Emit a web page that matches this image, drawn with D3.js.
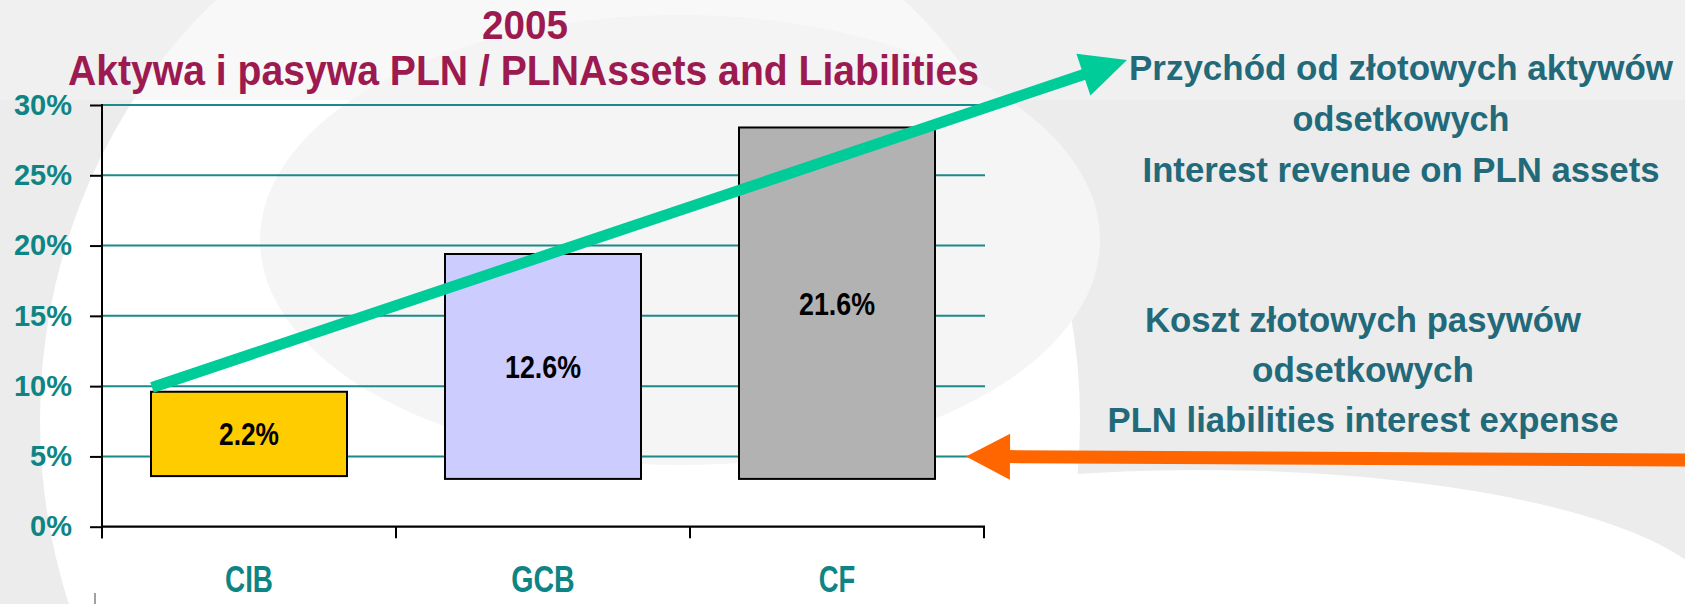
<!DOCTYPE html>
<html>
<head>
<meta charset="utf-8">
<script src="https://cdn.jsdelivr.net/npm/d3@7"></script>
<style>
  html, body { margin: 0; padding: 0; background: #eeeeee; }
  svg { display: block; }
  text { font-family: "Liberation Sans", Arial, "DejaVu Sans", sans-serif; font-weight: bold; }
</style>
</head>
<body>
<svg id="chart" width="1685" height="604"></svg>
<script>
// ---------------- data ----------------
const categories = ["CIB", "GCB", "CF"];
const rangeLow   = [3.6, 3.4, 3.4];     // bottom of floating bar (%)
const rangeHigh  = [9.6, 19.4, 28.4];   // top of floating bar (%)
const barLabels  = ["2.2%", "12.6%", "21.6%"];
const yTickValues = [0, 5, 10, 15, 20, 25, 30];
const titleLines = ["2005", "Aktywa i pasywa PLN / PLNAssets and Liabilities"];
const revenueNote = ["Przychód od złotowych aktywów", "odsetkowych", "Interest revenue on PLN assets"];
const expenseNote = ["Koszt złotowych pasywów", "odsetkowych", "PLN liabilities interest expense"];
const revenueArrowStartValue = 9.9;   // arrow leaves CIB bar top-left
const expenseArrowValue = 5;          // arrow points at 5% line

// ---------------- styles / layout ----------------
const barColors = ["#FFCC00", "#CCCCFF", "#B2B2B2"];
const teal = "#0E8484";
const noteColor = "#22697A";
const titleColor = "#9C1A50";
const W = 1685, H = 604;
const plot = { left: 102, right: 984, top: 105, bottom: 526.7 };

const svg = d3.select("#chart");

// ---------------- background ----------------
const bg = svg.append("g");
bg.append("rect").attr("width", W).attr("height", H).attr("fill", "#ececec");
bg.append("ellipse").attr("cx", 560).attr("cy", 420).attr("rx", 520).attr("ry", 560).attr("fill", "#ffffff");
bg.append("ellipse").attr("cx", 1200).attr("cy", 610).attr("rx", 520).attr("ry", 140).attr("fill", "#ffffff");
bg.append("ellipse").attr("cx", 680).attr("cy", 240).attr("rx", 420).attr("ry", 225).attr("fill", "#f5f5f5");
bg.append("rect").attr("x", 0).attr("y", 0).attr("width", W).attr("height", 100).attr("fill", "#f3f3f3").attr("opacity", 0.6);

// ---------------- scales ----------------
const x = d3.scaleBand().domain(categories)
  .range([plot.left, plot.right]).paddingInner(1/3).paddingOuter(1/6);
const y = d3.scaleLinear().domain([0, 30]).range([plot.bottom, plot.top]);

// ---------------- gridlines ----------------
svg.append("g").selectAll("line")
  .data(yTickValues.filter(d => d > 0))
  .join("line")
  .attr("x1", plot.left).attr("x2", plot.right + 1)
  .attr("y1", d => y(d)).attr("y2", d => y(d))
  .attr("stroke", "#1A8A8A").attr("stroke-width", 2);

// ---------------- bars ----------------
const bars = categories.map((c, i) => ({ c, lo: rangeLow[i], hi: rangeHigh[i], label: barLabels[i], color: barColors[i] }));
svg.append("g").selectAll("rect")
  .data(bars)
  .join("rect")
  .attr("x", d => x(d.c))
  .attr("y", d => y(d.hi))
  .attr("width", x.bandwidth())
  .attr("height", d => y(d.lo) - y(d.hi))
  .attr("fill", d => d.color)
  .attr("stroke", "#000").attr("stroke-width", 2);

const barLabelWidths = [60, 76, 76];
svg.append("g").selectAll("text")
  .data(bars)
  .join("text")
  .attr("x", d => x(d.c) + x.bandwidth() / 2)
  .attr("y", d => (y(d.lo) + y(d.hi)) / 2 + 0.358 * 32)
  .attr("text-anchor", "middle")
  .attr("font-size", 32)
  .attr("fill", "#000")
  .attr("textLength", (d, i) => barLabelWidths[i])
  .attr("lengthAdjust", "spacingAndGlyphs")
  .text(d => d.label);

// ---------------- y axis ----------------
const yAxis = d3.axisLeft(y).tickValues(yTickValues).tickSize(12).tickSizeOuter(0)
  .tickPadding(18).tickFormat(d => d + "%");
const gy = svg.append("g").attr("transform", `translate(${plot.left},0)`).call(yAxis);
gy.select(".domain").remove();
gy.selectAll(".tick line").attr("stroke", "#000").attr("stroke-width", 2);
gy.selectAll(".tick text").attr("font-size", 29).attr("fill", teal)
  .style("font-family", '"Liberation Sans", Arial, sans-serif').style("font-weight", "bold");
svg.append("line").attr("x1", plot.left).attr("x2", plot.left)
  .attr("y1", y(30) - 1).attr("y2", y(0) + 11.5).attr("stroke", "#000").attr("stroke-width", 2);

// ---------------- x axis ----------------
svg.append("line").attr("x1", plot.left).attr("x2", plot.right + 1)
  .attr("y1", y(0)).attr("y2", y(0)).attr("stroke", "#000").attr("stroke-width", 2.2);
const boundaries = d3.range(categories.length + 1).map(i => x.range()[0] + i * x.step());
svg.append("g").selectAll("line").data(boundaries).join("line")
  .attr("x1", d => d).attr("x2", d => d)
  .attr("y1", y(0)).attr("y2", y(0) + 11.5)
  .attr("stroke", "#000").attr("stroke-width", 2);
const xAxis = d3.axisBottom(x).tickSize(0).tickPadding(0);
const gx = svg.append("g").attr("transform", `translate(0,${y(0)})`).call(xAxis);
gx.select(".domain").remove();
const catLabelWidths = [48, 63.5, 36.5];
gx.selectAll(".tick text")
  .attr("y", 591.7 - y(0)).attr("dy", 0)
  .attr("font-size", 36).attr("fill", teal)
  .style("font-family", '"Liberation Sans", Arial, sans-serif').style("font-weight", "bold")
  .attr("textLength", (d, i) => catLabelWidths[i])
  .attr("lengthAdjust", "spacingAndGlyphs");

// small decorative tick at bottom-left
svg.append("line").attr("x1", 95).attr("x2", 95).attr("y1", 593).attr("y2", H)
  .attr("stroke", "#a0a0a0").attr("stroke-width", 2);

// ---------------- title (one text block, two lines) ----------------
const titleSpec = [
  { x: 525, y: 38.5, size: 41, width: 86 },
  { x: 523.5, y: 84.5, size: 43, width: 911 }
];
svg.append("text")
  .attr("text-anchor", "middle").attr("fill", titleColor)
  .selectAll("tspan").data(titleLines).join("tspan")
  .attr("x", (d, i) => titleSpec[i].x).attr("y", (d, i) => titleSpec[i].y)
  .attr("font-size", (d, i) => titleSpec[i].size)
  .attr("textLength", (d, i) => titleSpec[i].width)
  .attr("lengthAdjust", "spacingAndGlyphs")
  .text(d => d);

// ---------------- notes ----------------
function note(lines, cx, baselines, widths) {
  svg.append("g").selectAll("text").data(lines).join("text")
    .attr("x", cx).attr("y", (d, i) => baselines[i])
    .attr("text-anchor", "middle").attr("fill", noteColor)
    .attr("font-size", 35)
    .attr("textLength", (d, i) => widths[i])
    .attr("lengthAdjust", "spacingAndGlyphs")
    .text(d => d);
}
note(revenueNote, 1401, [80, 130.5, 181.5], [544, 217, 517]);
note(expenseNote, 1363, [331.7, 381.7, 431.7], [436, 222, 511]);

// ---------------- arrows ----------------
function arrow(x0, y0, x1, y1, color, width, headLen, headHalf) {
  const dx = x1 - x0, dy = y1 - y0, L = Math.hypot(dx, dy);
  const ux = dx / L, uy = dy / L, px = -uy, py = ux;
  const bx = x1 - ux * headLen, by = y1 - uy * headLen;
  const g = svg.append("g");
  g.append("line").attr("x1", x0).attr("y1", y0)
    .attr("x2", bx + ux * 2).attr("y2", by + uy * 2)
    .attr("stroke", color).attr("stroke-width", width);
  g.append("path")
    .attr("d", `M${x1},${y1}L${bx + px * headHalf},${by + py * headHalf}L${bx - px * headHalf},${by - py * headHalf}Z`)
    .attr("fill", color);
}
arrow(x("CIB") + 1, y(revenueArrowStartValue), 1127, 60, "#00CC99", 11, 46, 22);
arrow(W + 5, 460, plot.right - 18, y(expenseArrowValue), "#FF6600", 13, 44, 23);
</script>
</body>
</html>
